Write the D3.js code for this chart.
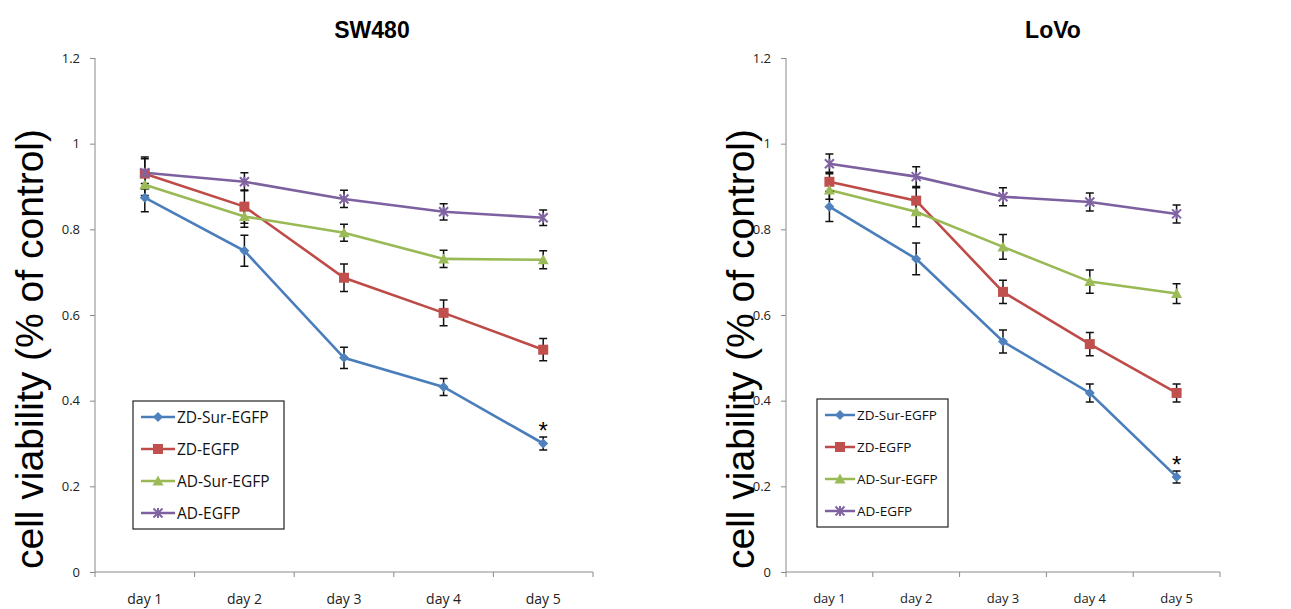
<!DOCTYPE html>
<html>
<head>
<meta charset="utf-8">
<script src="https://cdn.jsdelivr.net/npm/d3@7"></script>
<style>
  body { margin: 0; background: #fff; }
  .tick text { font-family: "Open Sans", "Noto Sans", sans-serif; font-size: 13px; fill: #222; }
  .axis path, .axis line { stroke: #8a8a8a; }
  .legend text { font-family: "Open Sans", "Noto Sans", sans-serif; fill: #111; }
</style>
</head>
<body>
<svg id="chart"></svg>
<script>
const days = ["day 1", "day 2", "day 3", "day 4", "day 5"];
const seriesNames = ["ZD-Sur-EGFP", "ZD-EGFP", "AD-Sur-EGFP", "AD-EGFP"];
const yTicks = [0, 0.2, 0.4, 0.6, 0.8, 1, 1.2];

// SW480
const sw480Values = [
    [0.874, 0.750, 0.500, 0.432, 0.300],
    [0.930, 0.853, 0.687, 0.605, 0.519],
    [0.904, 0.830, 0.792, 0.731, 0.729],
    [0.932, 0.911, 0.871, 0.841, 0.827]
];
const sw480Errors = [
    [0.033, 0.036, 0.025, 0.020, 0.015],
    [0.035, 0.039, 0.032, 0.030, 0.026],
    [0.025, 0.025, 0.020, 0.020, 0.021],
    [0.037, 0.021, 0.020, 0.019, 0.018]
];

// LoVo
const lovoValues = [
    [0.853, 0.731, 0.538, 0.418, 0.222],
    [0.911, 0.867, 0.654, 0.532, 0.418],
    [0.892, 0.841, 0.759, 0.678, 0.650],
    [0.953, 0.923, 0.876, 0.864, 0.836]
];
const lovoErrors = [
    [0.035, 0.037, 0.027, 0.021, 0.014],
    [0.022, 0.030, 0.027, 0.027, 0.021],
    [0.022, 0.035, 0.029, 0.027, 0.023],
    [0.023, 0.023, 0.021, 0.021, 0.021]
];

const lineColors = ["#4a7ebb", "#be4b48", "#98b954", "#7d60a0"];
const markerColors = ["#4f81bd", "#c0504d", "#9bbb59", "#8064a2"];

const svg = d3.select("#chart").attr("width", 1291).attr("height", 609);

function drawMarker(g, i, x, y) {
    let c = markerColors[i];
    if (i === 0) {
        g.append("path").attr("d", `M${x},${y-5}L${x+5},${y}L${x},${y+5}L${x-5},${y}Z`).attr("fill", c);
    } else if (i === 1) {
        g.append("rect").attr("x", x-5).attr("y", y-5).attr("width", 10).attr("height", 10).attr("fill", c);
    } else if (i === 2) {
        g.append("path").attr("d", `M${x},${y-5.5}L${x+5.5},${y+4.5}L${x-5.5},${y+4.5}Z`).attr("fill", c);
    } else {
        g.append("path").attr("d", `M${x-4.5},${y-4.5}L${x+4.5},${y+4.5}M${x+4.5},${y-4.5}L${x-4.5},${y+4.5}M${x},${y-5}L${x},${y+5}`)
            .attr("stroke", c).attr("stroke-width", 2).attr("fill", "none");
    }
}

function drawPanel(opt) {
    let g = svg.append("g");

    let x = d3.scaleBand().domain(days).range([opt.left, opt.right]);
    let y = d3.scaleLinear().domain([0, 1.2]).range([572, 58]);

    // Y axis
    g.append("g")
        .attr("class", "axis")
        .attr("transform", "translate(" + opt.left + ",0)")
        .call(d3.axisLeft(y).tickValues(yTicks).tickSize(5).tickPadding(10).tickFormat(d3.format("")));
    g.select(".domain").attr("d", `M${0},${y(1.2)}V${y(0)}`);

    // X axis with ticks at category edges
    let xa = g.append("g")
        .attr("class", "axis")
        .attr("transform", "translate(0,572)")
        .call(d3.axisBottom(x).tickSize(0).tickPadding(22));
    xa.select(".domain").attr("d", `M${opt.left},0H${opt.right}`);
    xa.selectAll(".tick text").style("font-size", opt.dayFont + "px");
    days.concat([null]).forEach((d, k) => {
        let px = opt.left + k * x.bandwidth();
        xa.append("line").attr("x1", px).attr("x2", px).attr("y1", 0).attr("y2", 5).attr("stroke", "#8a8a8a");
    });

    // lines
    opt.values.forEach((vals, i) => {
        g.append("path")
            .datum(vals)
            .attr("fill", "none")
            .attr("stroke", lineColors[i])
            .attr("stroke-width", 2.6)
            .attr("d", d3.line().x((d, k) => x(days[k]) + x.bandwidth() / 2).y(d => y(d)));
    });

    // error bars
    opt.values.forEach((vals, i) => {
        vals.forEach((v, k) => {
            let cx = x(days[k]) + x.bandwidth() / 2;
            let e = opt.errors[i][k];
            g.append("path")
                .attr("d", `M${cx},${y(v+e)}V${y(v-e)}M${cx-4},${y(v+e)}H${cx+4}M${cx-4},${y(v-e)}H${cx+4}`)
                .attr("stroke", "#111").attr("stroke-width", 1.5).attr("fill", "none");
        });
    });

    // markers
    opt.values.forEach((vals, i) => {
        vals.forEach((v, k) => drawMarker(g, i, x(days[k]) + x.bandwidth() / 2, y(v)));
    });

    // asterisk above ZD-Sur-EGFP day 5
    let v5 = opt.values[0][4], e5 = opt.errors[0][4];
    g.append("text")
        .attr("x", x(days[4]) + x.bandwidth() / 2)
        .attr("y", y(v5 + e5) + 2)
        .attr("text-anchor", "middle")
        .style("font-family", "Liberation Sans, Arial, sans-serif")
        .style("font-size", "24px")
        .text("*");

    // title
    g.append("text")
        .attr("x", opt.titleX)
        .attr("y", 38)
        .attr("text-anchor", "middle")
        .style("font-family", "Liberation Sans, Arial, sans-serif")
        .style("font-weight", "bold")
        .style("font-size", "23px")
        .text(opt.title);

    // y label
    g.append("text")
        .attr("transform", "translate(" + opt.labelX + ",349) rotate(-90)")
        .attr("text-anchor", "middle")
        .style("font-family", "Liberation Sans, Arial, sans-serif")
        .style("font-size", "39px")
        .text("cell viability (% of control)");

    // legend
    let L = opt.legend;
    let lg = g.append("g").attr("class", "legend");
    lg.append("rect")
        .attr("x", L.x).attr("y", L.y)
        .attr("width", L.w).attr("height", 128)
        .attr("fill", "#fff").attr("stroke", "#222").attr("stroke-width", 1.2);
    seriesNames.forEach((name, i) => {
        let ly = L.y + 16 + i * 32;
        let lx = L.x + 8;
        lg.append("line").attr("x1", lx).attr("x2", lx + L.line).attr("y1", ly).attr("y2", ly)
            .attr("stroke", lineColors[i]).attr("stroke-width", 2.5);
        drawMarker(lg, i, lx + L.line / 2, ly);
        lg.append("text").attr("x", lx + L.line + 2).attr("y", ly).attr("dy", "0.36em")
            .style("font-size", L.font + "px").text(name);
    });
}

drawPanel({ left: 95, right: 593, values: sw480Values, errors: sw480Errors, dayFont: 14,
    title: "SW480", titleX: 372, labelX: 43,
    legend: { x: 133, y: 401, w: 151, line: 34, font: 15.5 } });
drawPanel({ left: 786, right: 1220, values: lovoValues, errors: lovoErrors, dayFont: 13,
    title: "LoVo", titleX: 1053, labelX: 754,
    legend: { x: 817, y: 399, w: 131, line: 30, font: 13.5 } });
</script>
</body>
</html>
